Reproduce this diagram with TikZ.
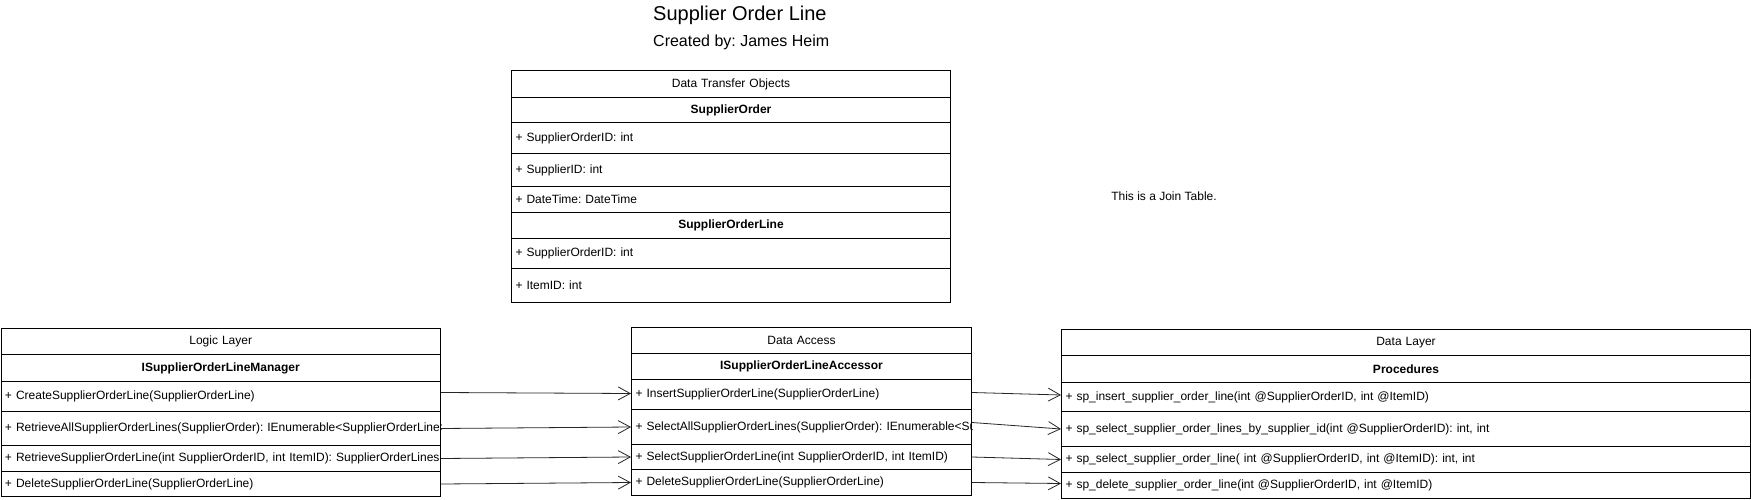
\documentclass[tikz,border=0pt]{standalone}
\usepackage{fontspec}
\setmainfont{Liberation Sans}
\usetikzlibrary{arrows.meta}
\frenchspacing

\begin{document}
\begin{tikzpicture}[x=1pt, y=-1pt,
		cell/.style 2 args={rectangle, draw, line width=1pt, anchor=north west, inner xsep=4pt, inner ysep=0pt,
			align=left, text width=#1, minimum height=#2, font=\fontsize{12}{14}\selectfont},
		link/.style={-{Straight Barb[length=12pt, width=13pt]}, line width=0.8pt, draw=black!85}]
		\useasboundingbox (0, 0) rectangle (1751, 500);

		\draw 
		(653, 21) node [anchor=base west, inner sep=0pt, font=\fontsize{20}{24}\selectfont] (title) {Supplier Order Line}
		(653, 47) node [anchor=base west, inner sep=0pt, font=\fontsize{16}{19}\selectfont] (author) {Created by: James Heim}
		(1164, 196) node [font=\fontsize{12}{14}\selectfont] (join) {This is a Join Table.};

		\draw 
		(511, 70) node [cell={431pt}{27pt}, align=center] (DTO) {Data Transfer Objects}
		(511, 97) node [cell={431pt}{25pt}, align=center] (SO) {\textbf{SupplierOrder}}
		(511, 122) node [cell={431pt}{31pt}] (SO1) {+ SupplierOrderID: int}
		(511, 153) node [cell={431pt}{33pt}] (SO2) {+ SupplierID: int}
		(511, 186) node [cell={431pt}{26pt}] (SO3) {+ DateTime: DateTime}
		(511, 212) node [cell={431pt}{26pt}, align=center] (SOL) {\textbf{SupplierOrderLine}}
		(511, 238) node [cell={431pt}{30pt}] (SOL1) {+ SupplierOrderID: int}
		(511, 268) node [cell={431pt}{34pt}] (SOL2) {+ ItemID: int};

		\begin{scope}
		\clip (0, 320) rectangle (441, 500);
		\draw 
		(0.5, 328) node [cell={431.5pt}{26pt}, align=center] (LL) {Logic Layer}
		(0.5, 354) node [cell={431.5pt}{27pt}, align=center] (LLI) {\textbf{ISupplierOrderLineManager}}
		(0.5, 381) node [cell={431.5pt}{30pt}] (LL1) {+ CreateSupplierOrderLine(SupplierOrderLine)}
		(0.5, 411) node [cell={431.5pt}{34pt}] (LL2) {\rlap{+ RetrieveAllSupplierOrderLines(SupplierOrder): IEnumerable<SupplierOrderLine>}}
		(0.5, 445) node [cell={431.5pt}{26pt}] (LL3) {\rlap{+ RetrieveSupplierOrderLine(int SupplierOrderID, int ItemID): SupplierOrderLines}}
		(0.5, 471) node [cell={431.5pt}{25pt}] (LL4) {+ DeleteSupplierOrderLine(SupplierOrderLine)};
		\end{scope}

		\begin{scope}
		\clip (630, 320) rectangle (972, 500);
		\draw 
		(631, 327) node [cell={332pt}{26pt}, align=center] (DA) {Data Access}
		(631, 353) node [cell={332pt}{26pt}, align=center] (DAI) {\textbf{ISupplierOrderLineAccessor}}
		(631, 379) node [cell={332pt}{30pt}] (DA1) {+ InsertSupplierOrderLine(SupplierOrderLine)}
		(631, 409) node [cell={332pt}{35pt}] (DA2) {\rlap{+ SelectAllSupplierOrderLines(SupplierOrder): IEnumerable<SupplierOrderLine>}}
		(631, 444) node [cell={332pt}{25pt}] (DA3) {+ SelectSupplierOrderLine(int SupplierOrderID, int ItemID)}
		(631, 469) node [cell={332pt}{26pt}] (DA4) {+ DeleteSupplierOrderLine(SupplierOrderLine)};
		\end{scope}

		% data layer is set a little smaller
		\draw [every node/.append style={font=\fontsize{11}{13}\selectfont}]
		(1061, 329) node [cell={681pt}{26pt}, align=center] (DL) {Data Layer}
		(1061, 355) node [cell={681pt}{27pt}, align=center] (DLP) {\textbf{Procedures}}
		(1061, 382) node [cell={681pt}{29pt}] (DL1) {+ sp\_insert\_supplier\_order\_line(int @SupplierOrderID, int @ItemID)}
		(1061, 411) node [cell={681pt}{35pt}] (DL2) {+ sp\_select\_supplier\_order\_lines\_by\_supplier\_id(int @SupplierOrderID): int, int}
		(1061, 446) node [cell={681pt}{26pt}] (DL3) {+ sp\_select\_supplier\_order\_line( int @SupplierOrderID, int @ItemID): int, int}
		(1061, 472) node [cell={681pt}{26pt}] (DL4) {+ sp\_delete\_supplier\_order\_line(int @SupplierOrderID, int @ItemID)};

		\draw[link] ([yshift=4pt]LL1.east) -- ([yshift=1pt]DA1.west);
		\draw[link] (LL2.east) -- (DA2.west);
		\draw[link] (LL3.east) -- (DA3.west);
		\draw[link] (LL4.east) -- (DA4.west);

		\draw[link] ([yshift=2pt]DA1.east) -- ([yshift=2pt]DL1.west);
		\draw[link] ([yshift=4.5pt]DA2.east) -- (DL2.west);
		\draw[link] (DA3.east) -- (DL3.west);
		\draw[link] (DA4.east) -- ([yshift=2pt]DL4.west);
	\end{tikzpicture}
\end{document}
